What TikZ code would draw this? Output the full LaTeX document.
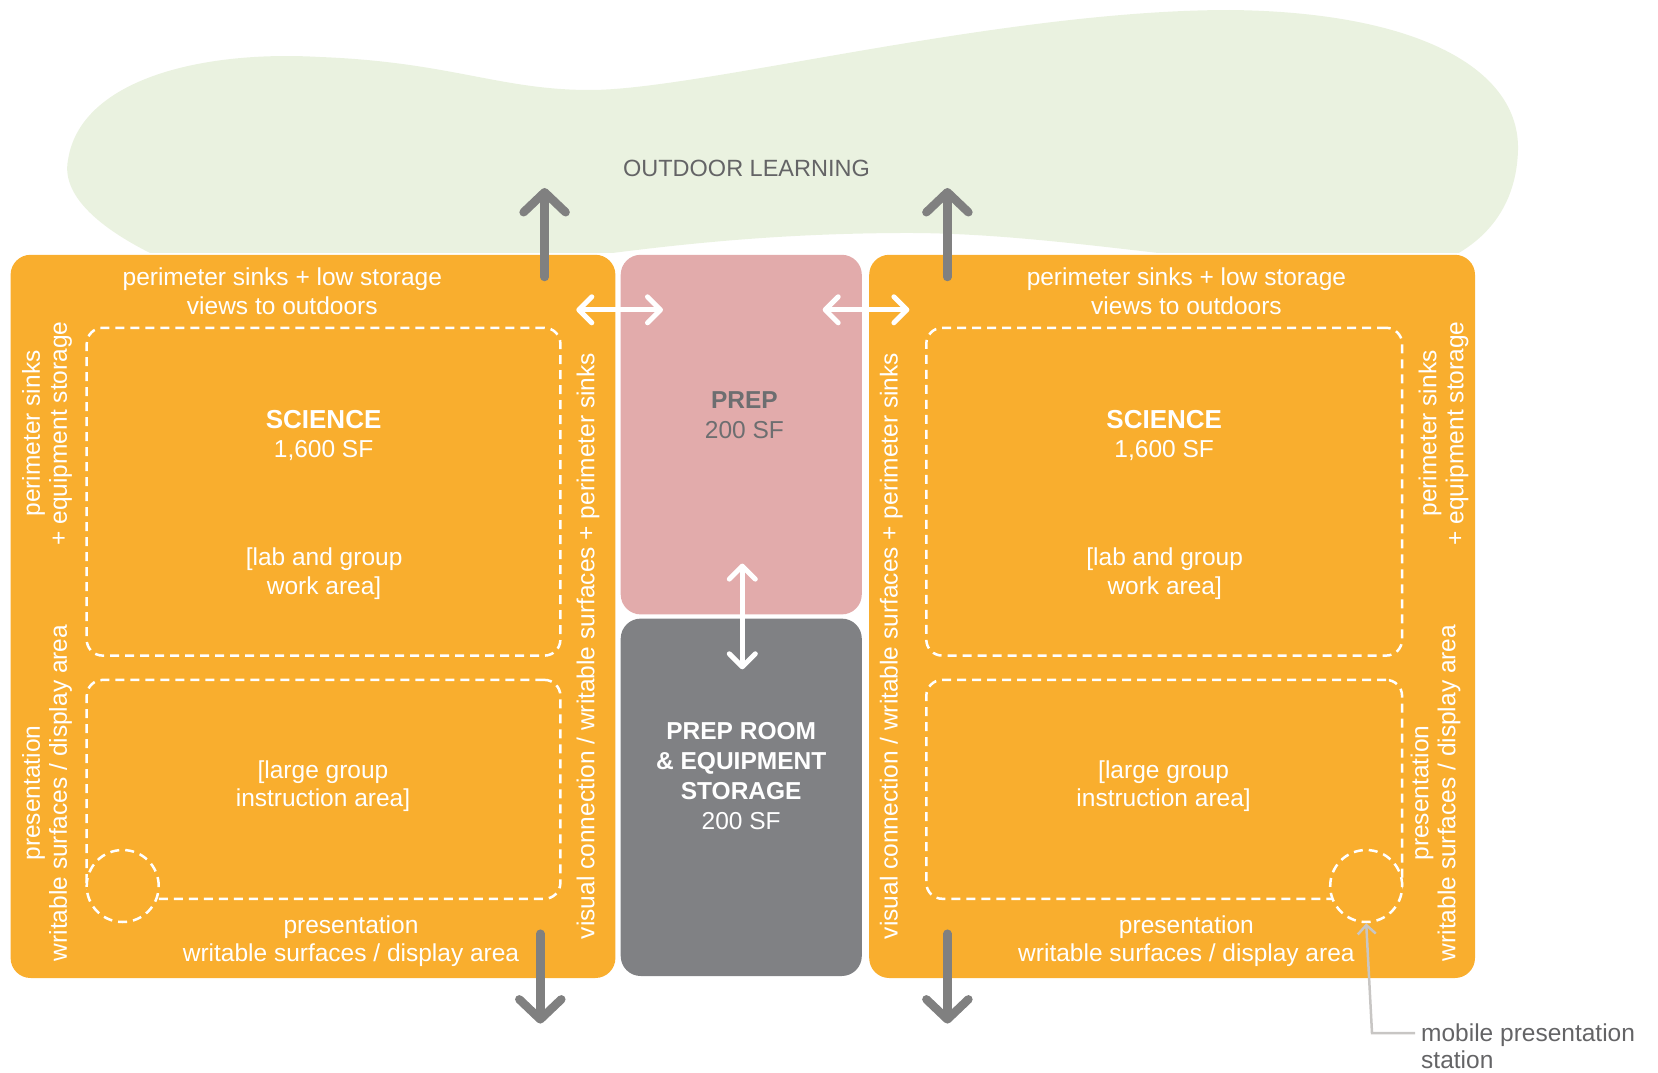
\documentclass[tikz,border=0pt]{standalone}
\usepackage{fontspec}
\setmainfont{Liberation Sans}
\usepackage{xcolor}
\usepackage{tikz}
\usetikzlibrary{arrows.meta, positioning}
\definecolor{roomorange}{RGB}{249,174,46}
\definecolor{preppink}{RGB}{226,171,171}
\definecolor{storegray}{RGB}{128,129,132}
\definecolor{outdoorgreen}{RGB}{234,242,224}
\definecolor{arrowgray}{RGB}{128,128,128}
\definecolor{labelgray}{RGB}{100,100,102}
\definecolor{calloutgray}{RGB}{200,198,196}
\tikzset{
x=1pt, y=-1pt, % one unit is one pixel of the plan, y runs downwards
room/.style={rounded corners=20pt, inner sep=0pt, draw=none}, % the coloured rooms
zone/.style={draw=white, line width=2.5pt, dash pattern=on 9pt off 6pt, rounded corners=16pt, inner sep=0pt}, % dashed activity areas
stand/.style={circle, draw=white, fill=roomorange, line width=2.5pt, dash pattern=on 9pt off 6pt, minimum size=72pt, inner sep=0pt}, % mobile station
roomtext/.style={text=white, align=center, inner sep=0pt, font=\fontsize{24.5}{28.5}\selectfont}, % labels inside the rooms
sidetext/.style={roomtext, rotate=90, font=\fontsize{24.5}{27}\selectfont}, % labels along the walls
darktext/.style={text=labelgray, align=center, inner sep=0pt, font=\fontsize{24.5}{30}\selectfont},
outway/.style={draw=arrowgray, line width=8.5pt, line cap=round, -{Straight Barb[length=20pt, width=42pt, round]}}, % doors to outside
link/.style={draw=white, line width=5pt, {Straight Barb[length=13pt, width=26pt, round]}-{Straight Barb[length=13pt, width=26pt, round]}}, % links between rooms
callout/.style={draw=calloutgray, line width=2.5pt, -{Straight Barb[length=9pt, width=18pt]}},
}
\begin{document}
\begin{tikzpicture}
        \useasboundingbox (0,0) rectangle (1658,1073);
        % outdoor area, cut just above the rooms
        \begin{scope}
        \clip (0,0) rectangle (1658,252);
        \fill[outdoorgreen] (200,275) .. controls (110,240) and (60,200) .. (68,160)
              .. controls (80,80) and (200,50) .. (320,57)
              .. controls (450,62) and (500,90) .. (590,90)
              .. controls (700,90) and (1000,10) .. (1230,10)
              .. controls (1420,12) and (1520,70) .. (1518,150)
              .. controls (1516,220) and (1470,260) .. (1400,275)
              .. controls (1200,265) and (1050,232) .. (900,233)
              .. controls (720,234) and (600,255) .. (450,275) -- cycle;
        \end{scope}
        \node[darktext, font=\fontsize{23.5}{28}\selectfont] (outdoor) at (746.5,168) {OUTDOOR LEARNING};

        % rooms
        \node[room, fill=roomorange, minimum width=604.8pt, minimum height=723.2pt] (sciL) at (313,616.4) {};
        \node[room, fill=preppink, minimum width=241.1pt, minimum height=359.6pt] (prep) at (741.25,434.6) {};
        \node[room, fill=storegray, minimum width=241.1pt, minimum height=357.4pt] (store) at (741.25,797.3) {};
        \node[room, fill=roomorange, minimum width=605.8pt, minimum height=723.2pt] (sciR) at (1172.1,616.4) {};

        % activity areas
        \node[zone, minimum width=473.7pt, minimum height=327.8pt] (labL) at (323.55,491.7) {};
        \node[zone, minimum width=473.7pt, minimum height=218.9pt] (groupL) at (323.55,789.35) {};
        \node[zone, minimum width=475.8pt, minimum height=327.8pt] (labR) at (1164.2,491.7) {};
        \node[zone, minimum width=475.8pt, minimum height=218.9pt] (groupR) at (1164.2,789.35) {};
        \node[stand] (standL) at (122.7,886) {};
        \node[stand] (standR) at (1366.2,886) {};

        % left science room
        \node[roomtext] (topL) at (282.3,291) {perimeter sinks + low storage\\views to outdoors};
        \node[roomtext] (nameL) at (323.6,435.5) {{\fontsize{26}{29}\selectfont\bfseries SCIENCE}\\1,600 SF};
        \node[roomtext] (labtxtL) at (324.1,573.5) {[lab and group\\work area]};
        \node[roomtext] (grouptxtL) at (323,786) {[large group\\instruction area]};
        \node[roomtext] (presL) at (351,941.4) {presentation\\writable surfaces / display area};
        \node[sidetext] (sinksL) at (47,433.5) {perimeter sinks\\+ equipment storage};
        \node[sidetext] (boardL) at (47,793) {presentation\\writable surfaces / display area};
        \node[sidetext] (viewL) at (588,646) {visual connection / writable surfaces + perimeter sinks};

        % right science room
        \node[roomtext] (topR) at (1186.4,291) {perimeter sinks + low storage\\views to outdoors};
        \node[roomtext] (nameR) at (1164.2,435.5) {{\fontsize{26}{29}\selectfont\bfseries SCIENCE}\\1,600 SF};
        \node[roomtext] (labtxtR) at (1164.7,573.5) {[lab and group\\work area]};
        \node[roomtext] (grouptxtR) at (1163.6,786) {[large group\\instruction area]};
        \node[roomtext] (presR) at (1186.4,941.4) {presentation\\writable surfaces / display area};
        \node[sidetext] (sinksR) at (1443.5,433.5) {perimeter sinks\\+ equipment storage};
        \node[sidetext] (boardR) at (1435.5,793) {presentation\\writable surfaces / display area};
        \node[sidetext] (viewR) at (891.4,646) {visual connection / writable surfaces + perimeter sinks};

        % prep rooms
        \node[darktext, text=storegray!85!black] (preptxt) at (744.4,415) {\textbf{PREP}\\200 SF};
        \node[darktext, text=white] (storetxt) at (741.2,776.5) {\textbf{PREP ROOM}\\\textbf{\& EQUIPMENT}\\\textbf{STORAGE}\\200 SF};

        % connections
        \coordinate (doorL) at (544.6,277);
        \coordinate (yardL) at (544.6,188);
        \coordinate (doorR) at (947.4,277);
        \coordinate (yardR) at (947.4,188);
        \coordinate (exitL) at (540.3,933.7);
        \coordinate (awayL) at (540.3,1023.6);
        \coordinate (exitR) at (947.4,933.7);
        \coordinate (awayR) at (947.4,1023.6);
        \draw[outway] (doorL) -- (yardL);
        \draw[outway] (doorR) -- (yardR);
        \draw[outway] (exitL) -- (awayL);
        \draw[outway] (exitR) -- (awayR);
        \coordinate (passL) at (576.3,309.8);
        \coordinate (passLp) at (663,309.8);
        \coordinate (passRp) at (822.7,309.8);
        \coordinate (passR) at (909.4,309.8);
        \coordinate (prepdoor) at (742.3,563.6);
        \coordinate (storedoor) at (742.3,669.3);
        \draw[link] (passL) -- (passLp);
        \draw[link] (passRp) -- (passR);
        \draw[link] (prepdoor) -- (storedoor);

        % note on the mobile station
        \node[darktext, align=left, anchor=west, font=\fontsize{24.5}{27.5}\selectfont] (mobile) at (1421,1046) {mobile presentation\\station};
        \coordinate (mobend) at (1415,1033);
        \coordinate (mobbend) at (1372,1033);
        \draw[callout] (mobend) -- (mobbend) -- (standR.south);
\end{tikzpicture}
\end{document}
